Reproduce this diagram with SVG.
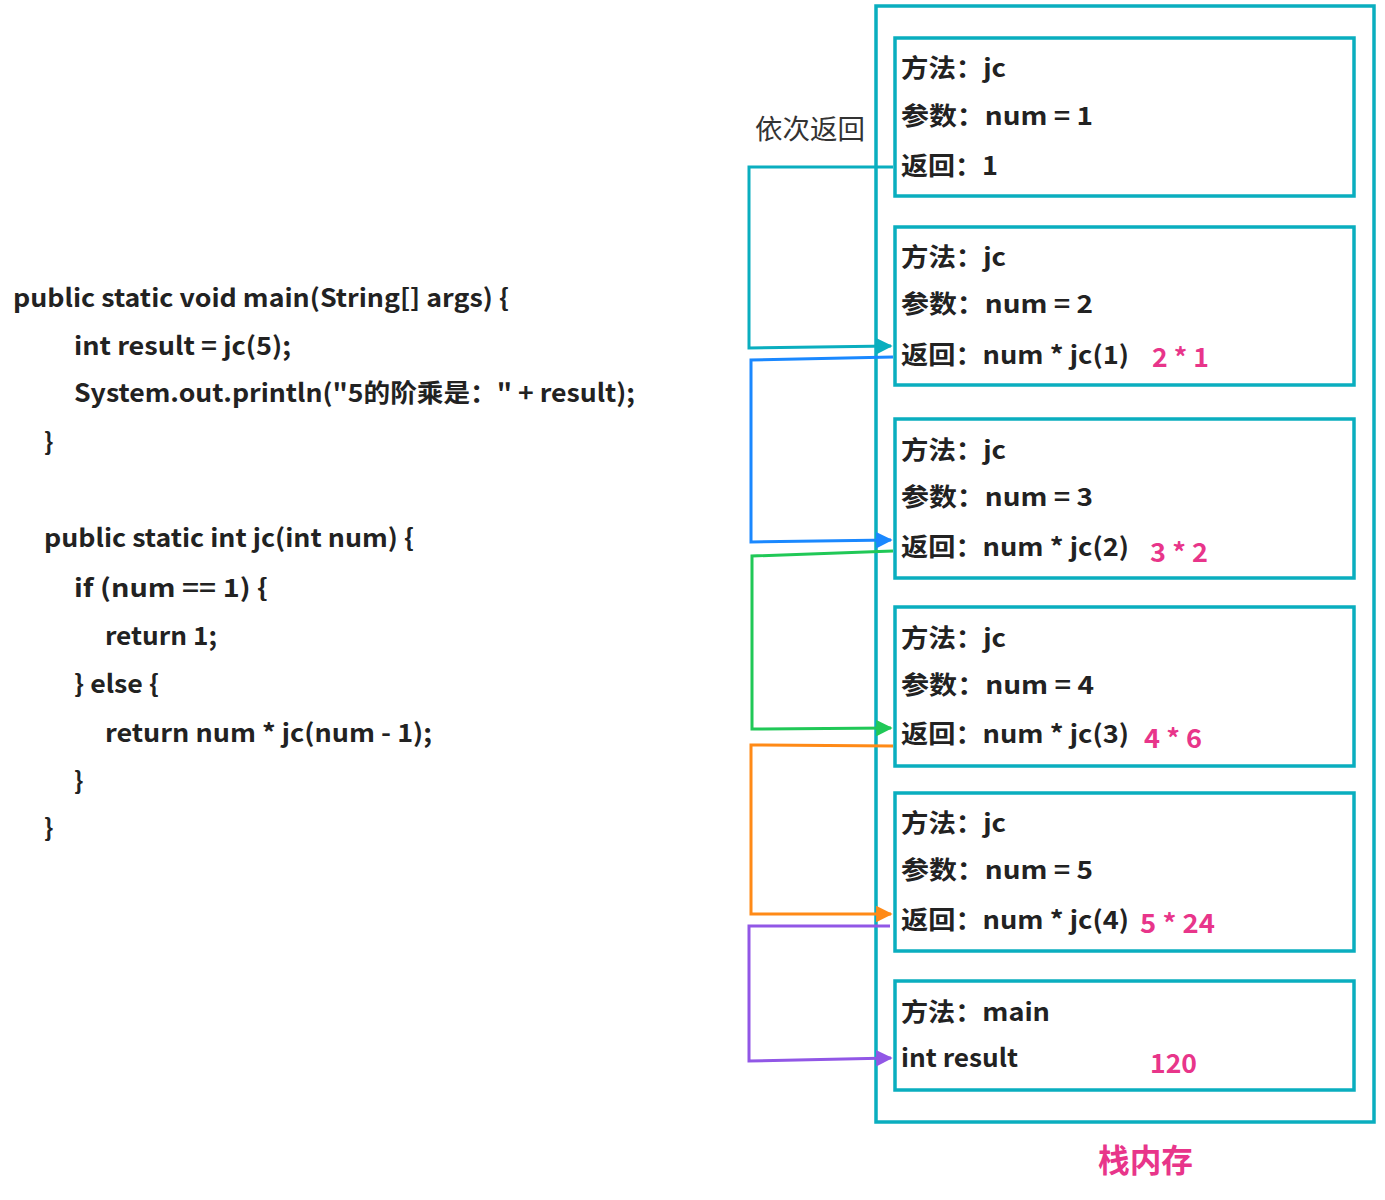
<svg xmlns="http://www.w3.org/2000/svg" width="1385" height="1200" viewBox="0 0 1385 1200">
<style>
.box{fill:none;stroke:#0aaebf;stroke-width:3.5}
.t{font-family:"Noto Sans CJK SC","Microsoft YaHei",sans-serif;font-weight:bold;font-size:25px;fill:#222}
.p{font-family:"Noto Sans CJK SC",sans-serif;font-weight:bold;font-size:26px;fill:#e8358a}
.code{font-family:"Noto Sans CJK SC","Microsoft YaHei",sans-serif;font-weight:bold;font-size:25px;fill:#222}
.lbl{font-family:"Noto Sans CJK SC",sans-serif;font-size:27px;fill:#333}
.c{fill:none;stroke-width:3;stroke-linejoin:miter}
</style>
<defs>
<marker id="aT" viewBox="0 0 10 10" refX="9" refY="5" markerWidth="6" markerHeight="5.5" orient="auto" markerUnits="strokeWidth"><path d="M0,0 L10,5 L0,10 z" fill="#0aaebf"/></marker>
<marker id="aB" viewBox="0 0 10 10" refX="9" refY="5" markerWidth="6" markerHeight="5.5" orient="auto" markerUnits="strokeWidth"><path d="M0,0 L10,5 L0,10 z" fill="#1a88ff"/></marker>
<marker id="aG" viewBox="0 0 10 10" refX="9" refY="5" markerWidth="6" markerHeight="5.5" orient="auto" markerUnits="strokeWidth"><path d="M0,0 L10,5 L0,10 z" fill="#20c857"/></marker>
<marker id="aO" viewBox="0 0 10 10" refX="9" refY="5" markerWidth="6" markerHeight="5.5" orient="auto" markerUnits="strokeWidth"><path d="M0,0 L10,5 L0,10 z" fill="#ff8a17"/></marker>
<marker id="aP" viewBox="0 0 10 10" refX="9" refY="5" markerWidth="6" markerHeight="5.5" orient="auto" markerUnits="strokeWidth"><path d="M0,0 L10,5 L0,10 z" fill="#9157e6"/></marker>
</defs>
<rect width="1385" height="1200" fill="#fff"/>

<g id="code">
<text class="code" x="13" y="307" textLength="496" lengthAdjust="spacingAndGlyphs">public static void main(String[] args) {</text>
<text class="code" x="74" y="355" textLength="217" lengthAdjust="spacingAndGlyphs">int result = jc(5);</text>
<text class="code" x="74" y="402" textLength="561" lengthAdjust="spacingAndGlyphs">System.out.println("5的阶乘是：" + result);</text>
<text class="code" x="44" y="451">}</text>
<text class="code" x="44" y="547" textLength="370" lengthAdjust="spacingAndGlyphs">public static int jc(int num) {</text>
<text class="code" x="74" y="597" textLength="194" lengthAdjust="spacingAndGlyphs">if (num == 1) {</text>
<text class="code" x="105" y="645" textLength="112" lengthAdjust="spacingAndGlyphs">return 1;</text>
<text class="code" x="74" y="693" textLength="85" lengthAdjust="spacingAndGlyphs">} else {</text>
<text class="code" x="105" y="742" textLength="327" lengthAdjust="spacingAndGlyphs">return num * jc(num - 1);</text>
<text class="code" x="74" y="790">}</text>
<text class="code" x="44" y="837">}</text>
</g>

<g id="stack">
<rect class="box" x="876" y="6" width="498" height="1116"/>
<text class="p" x="1098" y="1172" style="font-size:32px" textLength="95" lengthAdjust="spacingAndGlyphs">栈内存</text>
</g>

<g id="frame1">
<rect class="box" x="895" y="38" width="459" height="158"/>
<text class="t" x="901" y="77" textLength="105" lengthAdjust="spacingAndGlyphs">方法：jc</text>
<text class="t" x="901" y="125" textLength="192" lengthAdjust="spacingAndGlyphs">参数：num = 1</text>
<text class="t" x="901" y="175" textLength="97" lengthAdjust="spacingAndGlyphs">返回：1</text>
</g>
<g id="frame2">
<rect class="box" x="895" y="227" width="459" height="158"/>
<text class="t" x="901" y="266" textLength="105" lengthAdjust="spacingAndGlyphs">方法：jc</text>
<text class="t" x="901" y="313" textLength="192" lengthAdjust="spacingAndGlyphs">参数：num = 2</text>
<text class="t" x="901" y="364" textLength="228" lengthAdjust="spacingAndGlyphs">返回：num * jc(1)</text>
<text class="p" x="1152" y="367" textLength="57" lengthAdjust="spacingAndGlyphs">2 * 1</text>
</g>
<g id="frame3">
<rect class="box" x="895" y="419" width="459" height="159"/>
<text class="t" x="901" y="459" textLength="105" lengthAdjust="spacingAndGlyphs">方法：jc</text>
<text class="t" x="901" y="506" textLength="192" lengthAdjust="spacingAndGlyphs">参数：num = 3</text>
<text class="t" x="901" y="556" textLength="228" lengthAdjust="spacingAndGlyphs">返回：num * jc(2)</text>
<text class="p" x="1150" y="562" textLength="58" lengthAdjust="spacingAndGlyphs">3 * 2</text>
</g>
<g id="frame4">
<rect class="box" x="895" y="607" width="459" height="159"/>
<text class="t" x="901" y="647" textLength="105" lengthAdjust="spacingAndGlyphs">方法：jc</text>
<text class="t" x="901" y="694" textLength="193" lengthAdjust="spacingAndGlyphs">参数：num = 4</text>
<text class="t" x="901" y="743" textLength="228" lengthAdjust="spacingAndGlyphs">返回：num * jc(3)</text>
<text class="p" x="1144" y="748" textLength="58" lengthAdjust="spacingAndGlyphs">4 * 6</text>
</g>
<g id="frame5">
<rect class="box" x="895" y="793" width="459" height="158"/>
<text class="t" x="901" y="832" textLength="105" lengthAdjust="spacingAndGlyphs">方法：jc</text>
<text class="t" x="901" y="879" textLength="192" lengthAdjust="spacingAndGlyphs">参数：num = 5</text>
<text class="t" x="901" y="929" textLength="228" lengthAdjust="spacingAndGlyphs">返回：num * jc(4)</text>
<text class="p" x="1140" y="933" textLength="75" lengthAdjust="spacingAndGlyphs">5 * 24</text>
</g>
<g id="frameMain">
<rect class="box" x="895" y="981" width="459" height="109"/>
<text class="t" x="901" y="1021" textLength="149" lengthAdjust="spacingAndGlyphs">方法：main</text>
<text class="t" x="901" y="1067" textLength="117" lengthAdjust="spacingAndGlyphs">int result</text>
<text class="p" x="1150" y="1073" textLength="47" lengthAdjust="spacingAndGlyphs">120</text>
</g>

<g id="label">
<text class="lbl" x="755" y="139" textLength="110" lengthAdjust="spacingAndGlyphs">依次返回</text>
</g>

<g id="connectors">
<polyline class="c" stroke="#0aaebf" points="893,167 749,167 749,348 891,346" marker-end="url(#aT)"/>
<polyline class="c" stroke="#1a88ff" points="893,357 751,360 751,542 891,540" marker-end="url(#aB)"/>
<polyline class="c" stroke="#20c857" points="893,551 752,556 752,729 891,728" marker-end="url(#aG)"/>
<polyline class="c" stroke="#ff8a17" points="893,746 751,745 751,914 891,914" marker-end="url(#aO)"/>
<polyline class="c" stroke="#9157e6" points="890,926 749,926 749,1061 891,1058" marker-end="url(#aP)"/>
</g>
</svg>
